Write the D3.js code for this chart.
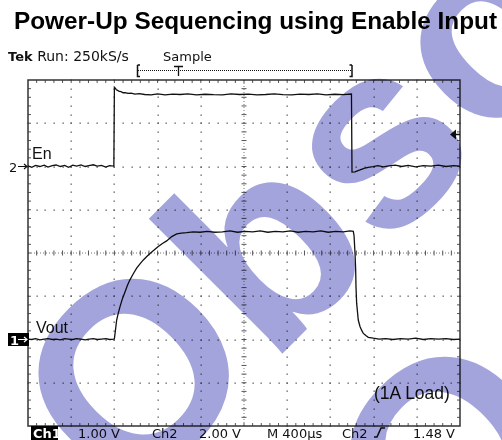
<!DOCTYPE html>
<html>
<head>
<meta charset="utf-8">
<script src="https://cdn.jsdelivr.net/npm/d3@7"></script>
<style>
  body { margin: 0; background: #fff; }
  svg { display: block; }
  .scope { font-family: "DejaVu Sans", Verdana, sans-serif; font-size: 13px; fill: #111; }
  .lbl { font-family: "Liberation Sans", Arial, sans-serif; fill: #111; }
  .wm { font-family: "Liberation Sans", Arial, sans-serif; font-weight: bold; fill: #a4a4dc; mix-blend-mode: multiply; }
</style>
</head>
<body>
<div id="chart"></div>
<script>
// ---- data ----
const title = "Power-Up Sequencing using Enable Input";
const header = ["Run: 250kS/s", "Sample"];
const bottomLabels = [
    {text: "1.00 V", x: 78},
    {text: "Ch2", x: 152},
    {text: "2.00 V", x: 199},
    {text: "M 400\u00b5s", x: 267},
    {text: "Ch2", x: 342},
    {text: "1.48 V", x: 413}
];
const timePerDiv = 400;   // us
const ch1PerDiv = 1.0;    // V (Vout)
const ch2PerDiv = 2.0;    // V (En)
const trigLevel = 1.48;   // V on Ch2

// Ch2 : enable input [time us, volts]
const enTrace = [
    [0,0.03],[35,-0.04],[70,0.05],[110,0.00],[150,0.06],[185,-0.03],[225,0.04],[260,0.07],[300,0.00],[340,0.05],
    [375,-0.04],[415,0.06],[450,0.02],[490,0.07],[530,0.00],[565,0.04],[605,0.08],[640,0.02],[680,0.05],[720,-0.03],
    [755,0.04],[795,0.02],
    [800,3.66],[808,3.62],[818,3.55],[830,3.52],[845,3.47],[862,3.46],[880,3.41],[900,3.42],[925,3.38],[955,3.39],
    [990,3.35],[1030,3.37],[1080,3.33],[1140,3.31],[1200,3.36],[1270,3.31],[1340,3.35],[1410,3.33],[1480,3.36],[1560,3.31],
    [1640,3.34],[1720,3.32],[1800,3.31],[1880,3.36],[1960,3.33],[2040,3.35],[2120,3.31],[2200,3.33],[2280,3.36],[2360,3.32],
    [2440,3.31],[2520,3.35],[2600,3.33],[2680,3.36],[2760,3.31],[2840,3.34],[2920,3.32],[2995,3.35],
    [3000,-0.26],[3028,-0.25],[3050,-0.20],[3074,-0.16],[3100,-0.11],[3120,-0.07],[3150,-0.04],[3194,-0.01],[3240,0.04],[3290,-0.02],
    [3340,0.03],[3400,0.06],[3460,0.00],[3520,0.05],[3590,-0.02],[3660,0.04],[3730,0.02],[3800,0.06],[3870,0.00],[3940,0.04],
    [4000,0.02]
];

// Ch1 : output voltage [time us, volts]
const voutTrace = [
    [0,0.01],[35,0.00],[70,0.02],[110,-0.01],[150,0.01],[185,0.02],[225,0.00],[260,0.01],[300,-0.01],[340,0.02],
    [375,0.01],[415,0.00],[450,0.02],[490,0.01],[530,-0.01],[565,0.01],[605,0.02],[640,0.00],[680,0.01],[720,0.02],
    [755,0.00],[795,0.01],
    [800,0.02],[810,0.22],[821,0.45],[836,0.61],[852,0.76],[875,0.95],[898,1.10],[920,1.25],[944,1.38],[975,1.52],
    [1006,1.65],[1037,1.75],[1068,1.84],[1100,1.92],[1130,1.99],[1168,2.07],[1206,2.15],[1245,2.22],[1284,2.28],[1331,2.38],
    [1377,2.44],[1420,2.46],[1469,2.47],[1530,2.49],[1593,2.48],
    [1660,2.50],[1730,2.48],[1800,2.49],[1870,2.51],[1940,2.48],[2010,2.50],[2080,2.49],[2150,2.51],[2220,2.48],[2290,2.50],
    [2360,2.49],[2430,2.51],[2500,2.48],[2570,2.50],[2640,2.49],[2710,2.51],[2780,2.48],[2850,2.50],[2920,2.49],[2980,2.51],
    [3012,2.50],
    [3019,2.40],[3028,1.99],[3034,1.61],[3037,1.22],[3043,0.84],[3058,0.45],[3074,0.30],[3090,0.21],[3105,0.14],[3128,0.09],
    [3151,0.05],[3197,0.03],[3250,0.01],[3310,0.02],[3380,0.00],[3450,0.02],[3520,0.01],[3590,0.03],[3660,0.00],[3730,0.02],
    [3800,0.01],[3870,0.02],[3940,0.00],[4000,0.01]
];

// "Obsolete" watermark pieces visible in the crop
const watermark = ["Obso", "O"];

// ---- layout ----
const W = 502, H = 440;
const plot = {left: 28, right: 460, top: 80, bottom: 426};
const xDivs = 10, yDivs = 8, minor = 5;

const svg = d3.select('#chart').append('svg')
    .attr('width', W)
    .attr('height', H);

const x = d3.scaleLinear()
    .domain([0, timePerDiv * xDivs])
    .range([plot.left, plot.right]);

// Ch1 ground is 6 div below the top, Ch2 ground is 2 div below the top
const y1 = d3.scaleLinear()
    .domain([-2 * ch1PerDiv, 6 * ch1PerDiv])
    .range([plot.bottom, plot.top]);
const y2 = d3.scaleLinear()
    .domain([-6 * ch2PerDiv, 2 * ch2PerDiv])
    .range([plot.bottom, plot.top]);

// graticule in division units
const gx = d3.scaleLinear().domain([0, xDivs]).range([plot.left, plot.right]);
const gy = d3.scaleLinear().domain([0, yDivs]).range([plot.top, plot.bottom]);

// title
svg.append('text')
    .attr('x', 14)
    .attr('y', 29)
    .attr('textLength', 483)
    .attr('lengthAdjust', 'spacingAndGlyphs')
    .style('font-family', '"Liberation Sans", Arial, sans-serif')
    .style('font-weight', 'bold')
    .style('font-size', '23px')
    .style('fill', '#000')
    .text(title);

// header line
let hdr = svg.append('text').attr('class', 'scope').attr('x', 8).attr('y', 61);
hdr.append('tspan').style('font-weight', 'bold').text('Tek ');
hdr.append('tspan').style('font-size', '14px').text(header[0]);
svg.append('text').attr('class', 'scope').attr('x', 163).attr('y', 61).text(header[1]);

// record bar
let rec = svg.append('g').attr('stroke', '#111').attr('fill', 'none');
rec.append('line').attr('x1', 138).attr('x2', 351).attr('y1', 70.5).attr('y2', 70.5)
    .attr('stroke-dasharray', '1,1').attr('stroke-width', 1);
rec.append('path').attr('d', 'M137.5,65V76.5H140M137.5,65H140').attr('stroke-width', 1.5);
rec.append('path').attr('d', 'M352,65V76.5H349.5M352,65H349.5').attr('stroke-width', 1.5);
rec.append('path').attr('d', 'M174,66.5H183M178.5,66.5V76').attr('stroke-width', 1.3);

// ---- graticule ----
let grid = svg.append('g');

// interior dotted lines
let dots = [];
d3.range(1, xDivs).filter(function(d) { return d !== xDivs / 2; }).forEach(function(d) {
    d3.range(0, yDivs * minor + 1).forEach(function(k) { dots.push([gx(d), gy(k / minor)]); });
});
d3.range(1, yDivs).filter(function(d) { return d !== yDivs / 2; }).forEach(function(d) {
    d3.range(0, xDivs * minor + 1).forEach(function(k) { dots.push([gx(k / minor), gy(d)]); });
});
grid.selectAll('rect.dot')
    .data(dots)
    .enter().append('rect')
    .attr('class', 'dot')
    .attr('x', function(d) { return Math.round(d[0]) - 0.5; })
    .attr('y', function(d) { return Math.round(d[1]) - 0.5; })
    .attr('width', 1.3)
    .attr('height', 1.3)
    .attr('fill', '#555');

// centre cross: dotted line plus minor ticks
grid.append('line')
    .attr('x1', plot.left).attr('x2', plot.right)
    .attr('y1', gy(yDivs / 2)).attr('y2', gy(yDivs / 2))
    .attr('stroke', '#777').attr('stroke-dasharray', '1,2');
grid.append('line')
    .attr('x1', gx(xDivs / 2)).attr('x2', gx(xDivs / 2))
    .attr('y1', plot.top).attr('y2', plot.bottom)
    .attr('stroke', '#777').attr('stroke-dasharray', '1,2');

let ticks = [];
d3.range(1, xDivs * minor).forEach(function(k) {
    let px = gx(k / minor);
    ticks.push([px, gy(yDivs / 2) - 2.5, px, gy(yDivs / 2) + 2.5]);
    ticks.push([px, plot.top, px, plot.top + 3]);
    ticks.push([px, plot.bottom, px, plot.bottom - 3]);
});
d3.range(1, yDivs * minor).forEach(function(k) {
    let py = gy(k / minor);
    ticks.push([gx(xDivs / 2) - 2.5, py, gx(xDivs / 2) + 2.5, py]);
    ticks.push([plot.left, py, plot.left + 3, py]);
    ticks.push([plot.right, py, plot.right - 3, py]);
});
grid.selectAll('line.tick')
    .data(ticks)
    .enter().append('line')
    .attr('class', 'tick')
    .attr('x1', function(d) { return d[0]; })
    .attr('y1', function(d) { return d[1]; })
    .attr('x2', function(d) { return d[2]; })
    .attr('y2', function(d) { return d[3]; })
    .attr('stroke', '#555')
    .attr('stroke-width', 1);

grid.append('rect')
    .attr('x', plot.left).attr('y', plot.top)
    .attr('width', plot.right - plot.left)
    .attr('height', plot.bottom - plot.top)
    .attr('fill', 'none')
    .attr('stroke', '#333')
    .attr('stroke-width', 1.5);

// ---- traces ----
svg.append('path')
    .datum(enTrace)
    .attr('fill', 'none')
    .attr('stroke', '#111')
    .attr('stroke-width', 1.3)
    .attr('d', d3.line()
        .x(function(d) { return x(d[0]); })
        .y(function(d) { return y2(d[1]); }));

svg.append('path')
    .datum(voutTrace)
    .attr('fill', 'none')
    .attr('stroke', '#111')
    .attr('stroke-width', 1.3)
    .attr('d', d3.line()
        .x(function(d) { return x(d[0]); })
        .y(function(d) { return y1(d[1]); }));

// trace labels
svg.append('text').attr('class', 'lbl').attr('x', 32).attr('y', 159).style('font-size', '16px').text('En');
svg.append('text').attr('class', 'lbl').attr('x', 36).attr('y', 333).style('font-size', '16px').text('Vout');
svg.append('text').attr('class', 'lbl').attr('x', 374).attr('y', 399).style('font-size', '17.5px').text('(1A Load)');

// channel ground markers
let g2 = y2(0);
svg.append('text').attr('class', 'scope').attr('x', 9).attr('y', g2 + 5).style('font-size', '13px').text('2');
svg.append('path').attr('d', 'M18,' + g2 + 'H27M24,' + (g2 - 2.5) + 'L27,' + g2 + 'L24,' + (g2 + 2.5))
    .attr('stroke', '#111').attr('fill', 'none').attr('stroke-width', 1.2);

let g1 = y1(0);
svg.append('rect').attr('x', 8).attr('y', g1 - 6.5).attr('width', 21).attr('height', 13).attr('fill', '#000');
svg.append('text').attr('class', 'scope').attr('x', 10).attr('y', g1 + 5).style('font-size', '13px')
    .style('font-weight', 'bold').style('fill', '#fff').text('1');
svg.append('path').attr('d', 'M18,' + g1 + 'H27M24,' + (g1 - 2.5) + 'L27,' + g1 + 'L24,' + (g1 + 2.5))
    .attr('stroke', '#fff').attr('fill', 'none').attr('stroke-width', 1.2);

// trigger level arrow
let tl = y2(trigLevel);
svg.append('path')
    .attr('d', 'M450,' + tl + 'L456,' + (tl - 5) + 'V' + (tl + 5) + 'Z')
    .attr('fill', '#111');
svg.append('line').attr('x1', 455).attr('x2', 460).attr('y1', tl).attr('y2', tl)
    .attr('stroke', '#111').attr('stroke-width', 1.5);

// bottom readout
svg.append('rect').attr('x', 31).attr('y', 426).attr('width', 27).attr('height', 14).attr('fill', '#000');
svg.append('text').attr('class', 'scope').attr('x', 33).attr('y', 438)
    .style('font-weight', 'bold').style('fill', '#fff').text('Ch1');
svg.selectAll('text.readout')
    .data(bottomLabels)
    .enter().append('text')
    .attr('class', 'scope readout')
    .attr('x', function(d) { return d.x; })
    .attr('y', 438)
    .text(function(d) { return d.text; });
// rising-edge slope symbol
svg.append('path')
    .attr('d', 'M374,437H377L381,428H385')
    .attr('stroke', '#111').attr('fill', 'none').attr('stroke-width', 1.5);

// ---- "Obsolete" watermark ----
svg.append('text')
    .attr('class', 'wm')
    .attr('transform', 'translate(126,510) rotate(-45)')
    .style('font-size', '262px')
    .text(watermark[0]);
svg.append('text')
    .attr('class', 'wm')
    .attr('transform', 'translate(438,588) rotate(-45)')
    .style('font-size', '262px')
    .text(watermark[1]);
</script>
</body>
</html>
